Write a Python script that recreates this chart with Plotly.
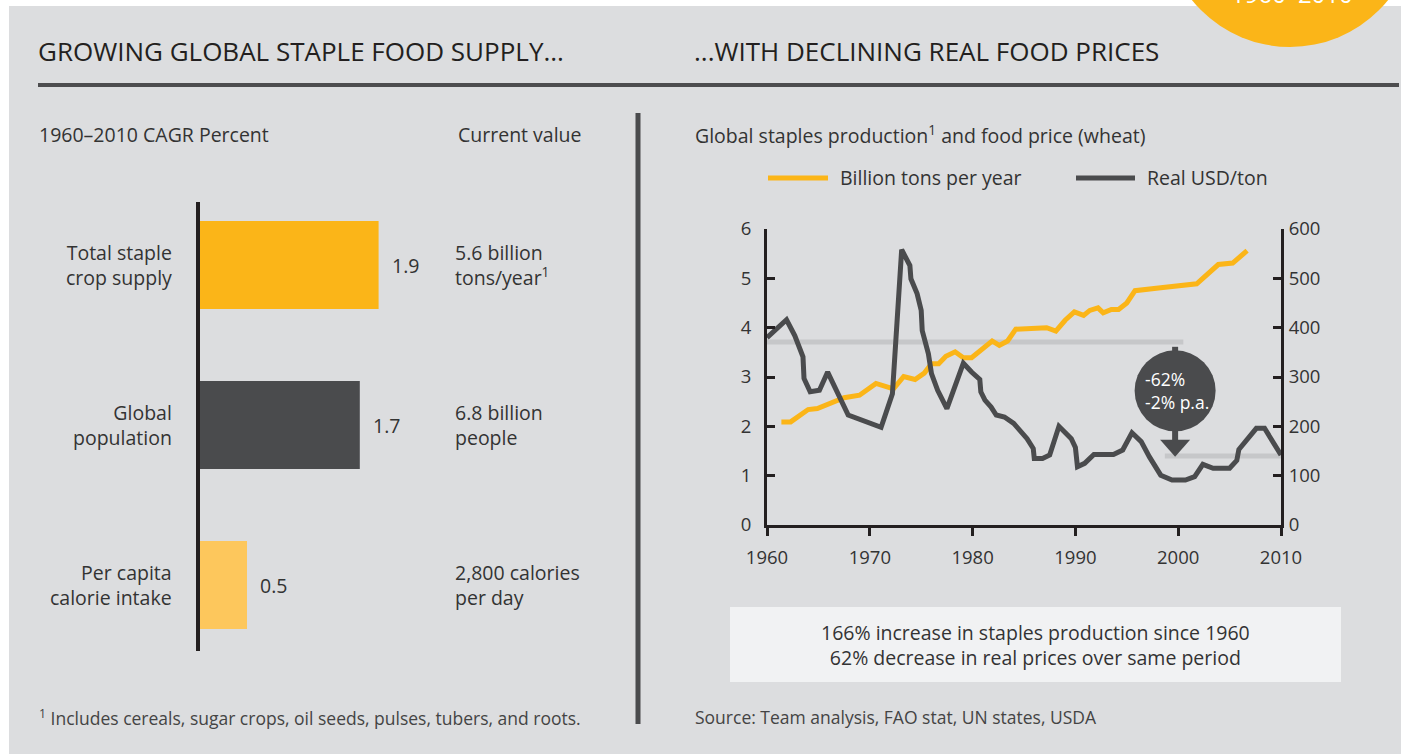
import plotly.graph_objects as go

# ---------------- data ----------------
bar_categories = ["Total staple<br>crop supply", "Global<br>population", "Per capita<br>calorie intake"]
bar_values = [1.9, 1.7, 0.5]
bar_labels = ["1.9", "1.7", "0.5"]
current_values = ["5.6 billion<br>tons/year<sup>1</sup>", "6.8 billion<br>people", "2,800 calories<br>per day"]
bar_colors = ["#fbb518", "#4a4b4d", "#fdc75c"]

prod_years = [1961.4, 1962.3, 1964.0, 1964.9, 1967.5, 1969.0, 1970.6, 1972.3, 1973.3, 1974.4,
              1975.3, 1976.0, 1976.7, 1977.4, 1978.3, 1979.1, 1979.9, 1981.0, 1981.9, 1982.6,
              1983.4, 1984.2, 1987.2, 1988.1, 1989.0, 1989.9, 1990.8, 1991.4, 1992.2, 1992.7,
              1993.5, 1994.2, 1995.0, 1995.8, 1997.2, 1998.3, 2001.8, 2002.9, 2003.9, 2005.3,
              2006.7]
prod_billion_tons = [2.09, 2.09, 2.34, 2.36, 2.58, 2.63, 2.87, 2.76, 3.01, 2.95,
                     3.08, 3.27, 3.27, 3.42, 3.51, 3.39, 3.39, 3.59, 3.73, 3.64,
                     3.73, 3.97, 4.00, 3.93, 4.15, 4.32, 4.25, 4.35, 4.40, 4.30,
                     4.37, 4.37, 4.50, 4.75, 4.77, 4.81, 4.89, 5.09, 5.28, 5.31,
                     5.56]

price_years = [1960, 1961.4, 1961.9, 1962.7, 1963.5, 1963.6, 1964.2, 1965.1, 1965.9, 1967.9,
               1971.1, 1972.2, 1973.1, 1973.9, 1974.0, 1974.6, 1975.0, 1975.1, 1975.7, 1976.0,
               1976.6, 1977.5, 1979.1, 1979.9, 1980.7, 1980.8, 1981.2, 1981.8, 1982.3, 1983.1,
               1984.0, 1985.3, 1985.9, 1986.0, 1986.8, 1987.5, 1988.4, 1989.6, 1990.0, 1990.2,
               1990.9, 1991.8, 1993.7, 1994.6, 1995.5, 1996.4, 1997.2, 1998.3, 1999.4, 2000.7,
               2001.6, 2002.4, 2003.4, 2005.0, 2005.7, 2005.9, 2006.7, 2007.6, 2008.4, 2010.0]
price_usd_ton = [380, 406, 416, 384, 341, 297, 270, 273, 310, 223,
                 198, 266, 558, 526, 499, 469, 435, 394, 347, 307,
                 273, 236, 328, 310, 295, 270, 253, 239, 223, 219,
                 206, 175, 155, 135, 135, 142, 200, 175, 157, 118,
                 125, 143, 143, 152, 187, 169, 138, 101, 91, 91,
                 98, 123, 115, 115, 131, 153, 172, 196, 196, 142]

x_ticks = [1960, 1970, 1980, 1990, 2000, 2010]
ref_high_price = 371   # price level in 1960 reference
ref_low_price = 140    # price level near 2010 reference
ref_high_span = [1960, 2000.5]
ref_low_span = [1998.7, 2010]
callout_year = 1999.7
callout_price = 272

# ---------------- layout helpers ----------------
W, H = 1401, 754
FONT = "Open Sans"
DARK = "#4a4b4d"
TXT = "#333333"
ORANGE = "#fbb518"
BODY = 19.5


def px(x):
    return x / W


def py(y):
    return 1 - y / H


fig = go.Figure()

# Bars
fig.add_trace(go.Bar(
    x=bar_values, y=bar_categories, orientation="h",
    marker=dict(color=bar_colors, line=dict(width=0)),
    xaxis="x", yaxis="y", showlegend=False, hoverinfo="skip",
))

# Lines
fig.add_trace(go.Scatter(
    x=prod_years, y=prod_billion_tons, mode="lines",
    line=dict(color=ORANGE, width=5), name="Billion tons per year",
    xaxis="x2", yaxis="y2", showlegend=False,
))
fig.add_trace(go.Scatter(
    x=price_years, y=price_usd_ton, mode="lines",
    line=dict(color=DARK, width=5), name="Real USD/ton",
    xaxis="x2", yaxis="y3", showlegend=False,
))

shapes = []
# white outer margin strips
shapes.append(dict(type="rect", xref="paper", yref="paper", x0=0, x1=1, y0=py(6), y1=1.01,
                   fillcolor="white", line=dict(width=0), layer="below"))
shapes.append(dict(type="rect", xref="paper", yref="paper", x0=-0.01, x1=px(9), y0=-0.01, y1=1.01,
                   fillcolor="white", line=dict(width=0), layer="below"))
# orange circle top right
shapes.append(dict(type="circle", xref="paper", yref="paper",
                   x0=px(1164), x1=px(1416), y0=py(47), y1=py(-205),
                   fillcolor=ORANGE, line=dict(width=0), layer="above"))
# header rule
shapes.append(dict(type="line", xref="paper", yref="paper", x0=px(38), x1=px(1399), y0=py(85), y1=py(85),
                   line=dict(color="#4d4d4f", width=4)))
# vertical separator
shapes.append(dict(type="line", xref="paper", yref="paper", x0=px(638), x1=px(638), y0=py(113), y1=py(724),
                   line=dict(color=DARK, width=5)))
# bottom info box
shapes.append(dict(type="rect", xref="paper", yref="paper", x0=px(730), x1=px(1341), y0=py(682), y1=py(607),
                   fillcolor="#f1f2f3", line=dict(width=0), layer="below"))
# legend swatches
shapes.append(dict(type="line", xref="paper", yref="paper", x0=px(768), x1=px(828), y0=py(178), y1=py(178),
                   line=dict(color=ORANGE, width=5)))
shapes.append(dict(type="line", xref="paper", yref="paper", x0=px(1076), x1=px(1135), y0=py(178), y1=py(178),
                   line=dict(color=DARK, width=5)))
# reference lines
shapes.append(dict(type="line", xref="x2", yref="y3", x0=ref_high_span[0], x1=ref_high_span[1],
                   y0=ref_high_price, y1=ref_high_price, line=dict(color="#c6c7c9", width=5), layer="below"))
shapes.append(dict(type="line", xref="x2", yref="y3", x0=ref_low_span[0], x1=ref_low_span[1],
                   y0=ref_low_price, y1=ref_low_price, line=dict(color="#c6c7c9", width=5), layer="below"))
# callout: stem, circle, arrow
shapes.append(dict(type="line", xref="x2", yref="y3", xsizemode="pixel", ysizemode="pixel",
                   xanchor=callout_year, yanchor=callout_price, x0=0, x1=0, y0=0, y1=44,
                   line=dict(color=DARK, width=6)))
shapes.append(dict(type="line", xref="x2", yref="y3", xsizemode="pixel", ysizemode="pixel",
                   xanchor=callout_year, yanchor=callout_price, x0=0, x1=0, y0=0, y1=-52,
                   line=dict(color=DARK, width=6)))
shapes.append(dict(type="circle", xref="x2", yref="y3", xsizemode="pixel", ysizemode="pixel",
                   xanchor=callout_year, yanchor=callout_price, x0=-40.5, x1=40.5, y0=-40.5, y1=40.5,
                   fillcolor=DARK, line=dict(width=0)))
shapes.append(dict(type="path", xref="x2", yref="y3", xsizemode="pixel", ysizemode="pixel",
                   xanchor=callout_year, yanchor=callout_price,
                   path="M -15 -49 L 15 -49 L 0 -66 Z",
                   fillcolor=DARK, line=dict(width=0)))

ann = []


def text(x, y, s, size=BODY, color=TXT, xanchor="left", align="left", **kw):
    d = dict(x=px(x), y=py(y), xref="paper", yref="paper", text=s, showarrow=False,
             xanchor=xanchor, yanchor="middle", align=align,
             font=dict(family=FONT, size=size, color=color))
    d.update(kw)
    ann.append(d)


text(1292, -7, "1960–2010", size=24, color="white", xanchor="center")
text(36, 51, "GROWING GLOBAL STAPLE FOOD SUPPLY...", size=26, color="#231f20")
text(692, 51, "...WITH DECLINING REAL FOOD PRICES", size=26, color="#231f20")
text(37, 134, "1960–2010 CAGR Percent")
text(456, 134, "Current value")
text(693, 134, "Global staples production<sup>1</sup> and food price (wheat)")
text(838, 178, "Billion tons per year")
text(1145, 178, "Real USD/ton")
text(1035, 645, "166% increase in staples production since 1960<br>62% decrease in real prices over same period",
     xanchor="center", align="center")
text(37, 717, "<sup>1</sup> Includes cereals, sugar crops, oil seeds, pulses, tubers, and roots.", size=17.5, color="#444")
text(693, 717, "Source: Team analysis, FAO stat, UN states, USDA", size=17.5, color="#444")

# bar chart labels through the bar axes
for cat, v, lab, cur in zip(bar_categories, bar_values, bar_labels, current_values):
    ann.append(dict(x=px(174), y=cat, xref="paper", yref="y", text=cat, showarrow=False,
                    xanchor="right", yanchor="middle", align="right",
                    font=dict(family=FONT, size=BODY, color=TXT)))
    ann.append(dict(x=v, y=cat, xref="x", yref="y", text=lab, showarrow=False,
                    xanchor="left", yanchor="middle", xshift=11,
                    font=dict(family=FONT, size=BODY, color=TXT)))
    ann.append(dict(x=px(453), y=cat, xref="paper", yref="y", text=cur, showarrow=False,
                    xanchor="left", yanchor="middle", align="left",
                    font=dict(family=FONT, size=BODY, color=TXT)))

# callout text
ann.append(dict(x=callout_year, y=callout_price, xref="x2", yref="y3", text="-62%<br>-2% p.a.",
                showarrow=False, xanchor="left", yanchor="middle", align="left", xshift=-32,
                font=dict(family=FONT, size=17.5, color="white")))

axis_font = dict(family=FONT, size=18.5, color=TXT)

fig.update_layout(
    width=W, height=H, margin=dict(l=0, r=0, t=0, b=0, pad=0, autoexpand=False),
    paper_bgcolor="#dcdddf", plot_bgcolor="rgba(0,0,0,0)",
    font=dict(family=FONT, color=TXT),
    shapes=shapes, annotations=ann, bargap=0.45, showlegend=False,
    xaxis=dict(domain=[px(200), px(200 + 2.5 * 94)], range=[0, 2.5], visible=False,
               fixedrange=True, automargin=False),
    yaxis=dict(domain=[py(651), py(202)], type="category", range=[2.4125, -0.394],
               showline=True, linecolor="#231f20", linewidth=4, showticklabels=False,
               ticks="", showgrid=False, zeroline=False, anchor="x", automargin=False),
    xaxis2=dict(domain=[px(767), px(1281)], range=[1960, 2010], tickvals=x_ticks,
                ticks="outside", ticklen=8, tickwidth=3, tickcolor="#231f20",
                showline=True, linecolor="#231f20", linewidth=3, showgrid=False, zeroline=False,
                tickfont=axis_font, anchor="y2", ticklabelstandoff=6, automargin=False),
    yaxis2=dict(domain=[py(525), py(229)], range=[0, 6], dtick=1,
                ticks="inside", ticklen=8, tickwidth=3, tickcolor="#231f20",
                showline=True, linecolor="#231f20", linewidth=3, showgrid=False, zeroline=False,
                tickfont=axis_font, anchor="x2", side="left", ticklabelstandoff=9, automargin=False),
    yaxis3=dict(domain=[py(525), py(229)], range=[0, 600], dtick=100, overlaying="y2",
                ticks="inside", ticklen=8, tickwidth=3, tickcolor="#231f20",
                showline=True, linecolor="#231f20", linewidth=3, showgrid=False, zeroline=False,
                tickfont=axis_font, anchor="x2", side="right", ticklabelstandoff=1, automargin=False),
)

# remove the browser's default page margin so the figure starts at the window corner
fig.write_html("out.html", config={"displayModeBar": False},
               post_script="document.body.style.margin='0';")
